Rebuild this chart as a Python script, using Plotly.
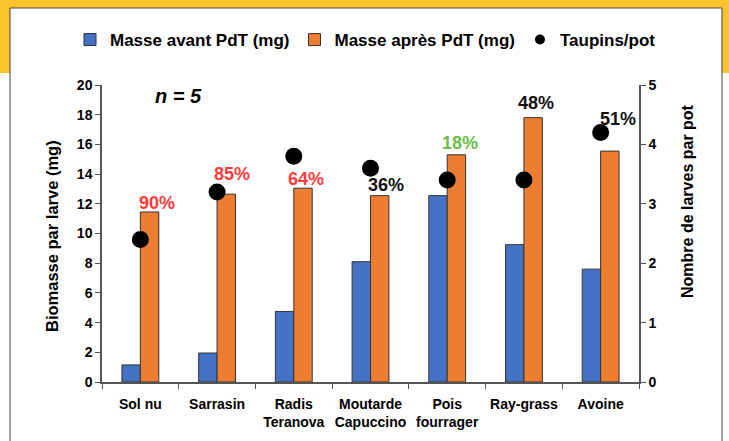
import plotly.graph_objects as go

# ---- data -------------------------------------------------------------
categories = ["Sol nu", "Sarrasin", "Radis<br>Teranova", "Moutarde<br>Capuccino",
              "Pois<br>fourrager", "Ray-grass", "Avoine"]
masse_avant = [1.15, 1.95, 4.75, 8.1, 12.55, 9.25, 7.6]
masse_apres = [11.45, 12.65, 13.05, 12.55, 15.3, 17.8, 15.55]
taupins_pot = [2.4, 3.2, 3.8, 3.6, 3.4, 3.4, 4.2]
pct_labels = ["90%", "85%", "64%", "36%", "18%", "48%", "51%"]
pct_y = [12.05, 14.0, 13.7, 13.3, 16.1, 18.8, 17.7]
pct_colors = ["#FF3B3B", "#FF3B3B", "#FF3B3B", "#111111", "#6CBF4A", "#111111", "#111111"]
pct_shift = [17, 15, 12, 15, 13, 12, 17]

BLUE = "#4472C4"
ORANGE = "#ED7D31"
YELLOW = "#FBC22C"
AXIS = "#555555"
FONT = "Liberation Sans Narrow, Arial Narrow, Liberation Sans, Arial"

W, H = 729, 441
L, R, T, B = 102, 90, 85, 59


def px(x):
    return (x - L) / (W - L - R)


def py(y):
    return (H - B - y) / (H - T - B)


fig = go.Figure()
fig.add_trace(go.Bar(
    x=categories, y=masse_avant, name="Masse avant PdT (mg)",
    marker=dict(color=BLUE, line=dict(color="#333333", width=1)),
))
fig.add_trace(go.Bar(
    x=categories, y=masse_apres, name="Masse après PdT (mg)",
    marker=dict(color=ORANGE, line=dict(color="#333333", width=1)),
))
fig.add_trace(go.Scatter(
    x=categories, y=taupins_pot, name="Taupins/pot", yaxis="y2",
    mode="markers", marker=dict(color="black", size=17), showlegend=False,
))
# smaller dot for the legend entry
fig.add_trace(go.Scatter(
    x=[None], y=[None], name="Taupins/pot", yaxis="y2",
    mode="markers", marker=dict(color="black", size=10),
))

for cat, lab, yv, col, sh in zip(categories, pct_labels, pct_y, pct_colors, pct_shift):
    fig.add_annotation(x=cat, y=yv, text=lab, showarrow=False, xshift=sh,
                       font=dict(family=FONT, size=18, color=col, weight="bold"))

fig.add_annotation(x=px(178), y=py(96), xref="paper", yref="paper", text="n = 5",
                   showarrow=False, xanchor="center", yanchor="middle",
                   font=dict(family=FONT, size=20, color="black", weight="bold", style="italic"))
fig.add_annotation(x=px(52), y=py(236), xref="paper", yref="paper",
                   text="Biomasse par larve (mg)", textangle=-90, showarrow=False,
                   xanchor="center", yanchor="middle",
                   font=dict(family=FONT, size=16.5, color="black", weight="bold"))
fig.add_annotation(x=px(687), y=py(201), xref="paper", yref="paper",
                   text="Nombre de larves par pot", textangle=-90, showarrow=False,
                   xanchor="center", yanchor="middle",
                   font=dict(family=FONT, size=16, color="black", weight="bold"))

# frame: yellow band on top, white card with a thin border
fig.add_shape(type="rect", xref="paper", yref="paper", layer="below",
              x0=px(-5), x1=px(W + 5), y0=py(73), y1=py(-5),
              fillcolor=YELLOW, line=dict(width=0))
fig.add_shape(type="rect", xref="paper", yref="paper", layer="below",
              x0=px(10), x1=px(722), y0=py(450), y1=py(8),
              fillcolor="white", line=dict(color="#444444", width=1))

tickfont = dict(family=FONT, size=14, color="black", weight="bold")
fig.update_layout(
    width=W, height=H,
    margin=dict(l=L, r=R, t=T, b=B, autoexpand=False),
    paper_bgcolor="white", plot_bgcolor="rgba(0,0,0,0)",
    barmode="group", bargap=0.52, bargroupgap=0,
    font=dict(family=FONT, color="black"),
    legend=dict(orientation="h", x=px(70), xanchor="left", y=py(40), yanchor="middle",
                font=dict(family=FONT, size=17, color="black", weight="bold"),
                bgcolor="rgba(0,0,0,0)", itemwidth=30),
    xaxis=dict(showline=True, linecolor=AXIS, linewidth=1.5, ticks="outside",
               tickson="boundaries", ticklen=5, tickcolor=AXIS, tickfont=tickfont,
               tickangle=0, ticklabelstandoff=8, showgrid=False),
    yaxis=dict(range=[0, 20], dtick=2, showline=True, linecolor=AXIS, linewidth=1.5,
               ticks="outside", ticklen=5, tickcolor=AXIS, tickfont=tickfont,
               showgrid=False, zeroline=False),
    yaxis2=dict(range=[0, 5], dtick=1, overlaying="y", side="right", showline=True,
                linecolor=AXIS, linewidth=1.5, ticks="outside", ticklen=5,
                tickcolor=AXIS, tickfont=tickfont, showgrid=False, zeroline=False),
)

fig.write_html("out.html", config={"displayModeBar": False},
               post_script="document.body.style.margin='0';")
